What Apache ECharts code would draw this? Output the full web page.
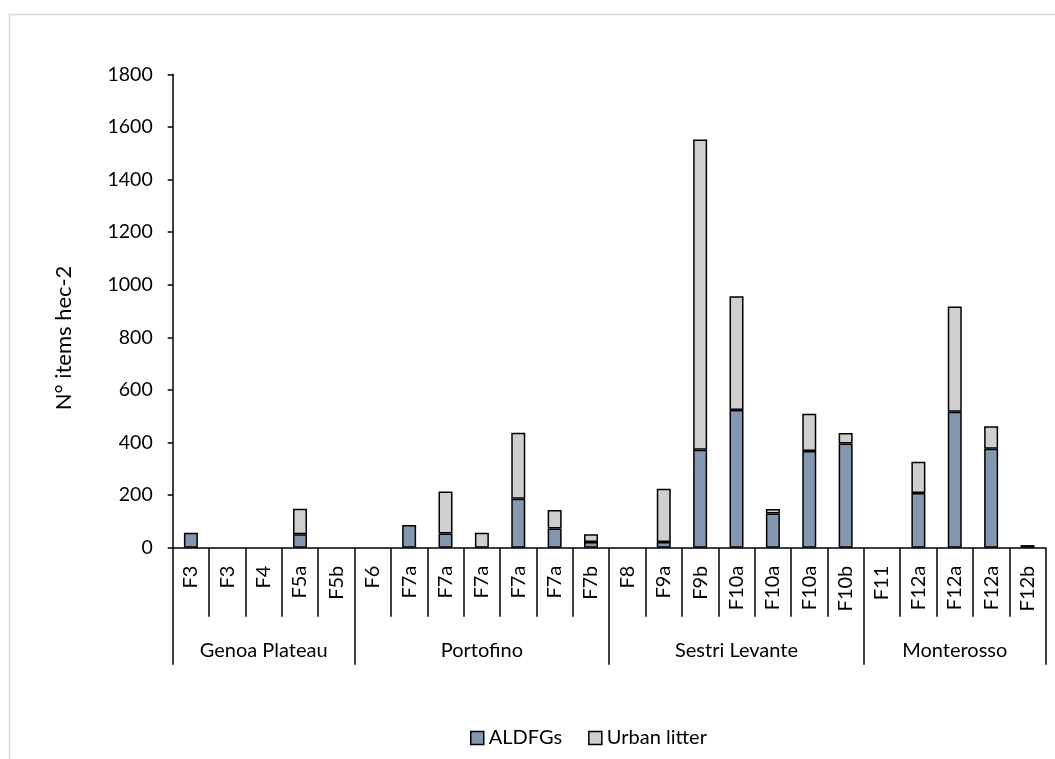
<!DOCTYPE html>
<html>
<head>
<meta charset="utf-8">
<script src="https://cdn.jsdelivr.net/npm/echarts@6/dist/echarts.min.js"></script>
<style>html,body{margin:0;padding:0;background:#fff;}#c{width:1055px;height:759px;}</style>
</head>
<body>
<div id="c"></div>
<script>
const categories = ['F3','F3','F4','F5a','F5b','F6','F7a','F7a','F7a','F7a','F7a','F7b','F8','F9a','F9b','F10a','F10a','F10a','F10b','F11','F12a','F12a','F12a','F12b'];
const aldfgs = [57,0,0,51,0, 0,86,54,0,186,73,22, 0,22,372,524,130,368,396, 0,208,517,376,0];
const urbanLitter = [0,0,0,97,0, 0,0,160,57,251,70,29, 0,202,1180,432,17,141,40, 0,119,400,86,10];
const groupNames = ['Genoa Plateau','Portofino','Sestri Levante','Monterosso'];
const groupSizes = [5,7,7,5];
const yTicks = [0,200,400,600,800,1000,1200,1400,1600,1800];

const boundaries = [0];
const centers = [];
groupSizes.forEach(function(s){ const b = boundaries[boundaries.length-1]; centers.push(b + s/2); boundaries.push(b + s); });
function noZero(arr){ return arr.map(function(v){ return v === 0 ? '-' : v; }); }

const FONT = 'Lato';
const chart = echarts.init(document.getElementById('c'), null, {renderer:'canvas'});
chart.setOption({
  animation:false,
  backgroundColor:'#fff',
  textStyle:{fontFamily:FONT,color:'#000'},
  graphic:[{type:'rect',shape:{x:9.5,y:14.5,width:1100,height:800},style:{fill:'none',stroke:'#d9d9d9',lineWidth:1.5},silent:true,z:-1}],
  grid:{left:172.7,right:9.3,top:74.3,bottom:211.3,containLabel:false},
  legend:{
    data:['ALDFGs','Urban litter'],
    left:465, top:723,
    itemWidth:13,itemHeight:13,itemGap:26,
    icon:'rect',
    textStyle:{fontFamily:FONT,fontSize:20,color:'#000'},
    itemStyle:{borderColor:'#000',borderWidth:1.5}
  },
  xAxis:[{
    type:'category',
    data:categories,
    position:'bottom',
    axisLine:{show:true,lineStyle:{color:'#000',width:1.5}},
    axisTick:{show:true,length:69,lineStyle:{color:'#000',width:1.5}},
    axisLabel:{interval:0,rotate:90,margin:18,fontSize:20,fontFamily:FONT,color:'#000'},
    splitLine:{show:false}
  },{
    type:'value',
    min:0,max:24,
    position:'bottom',
    axisLine:{show:false},
    splitLine:{show:false},
    axisTick:{show:true,customValues:boundaries,length:117,lineStyle:{color:'#000',width:1.5}},
    axisLabel:{show:true,customValues:centers,margin:93,fontSize:20,fontFamily:FONT,color:'#000',
      formatter:function(v){ const i = centers.indexOf(v); return i>=0 ? groupNames[i] : ''; }}
  }],
  yAxis:{
    type:'value',min:0,max:1800,interval:200,
    name:'N° items hec-2',nameLocation:'middle',nameGap:98,nameRotate:90,
    nameTextStyle:{fontFamily:FONT,fontSize:22,color:'#000',padding:[0,54,0,0]},
    axisLine:{show:true,lineStyle:{color:'#000',width:1.5}},
    axisTick:{show:true,length:5,lineStyle:{color:'#000',width:1.5}},
    axisLabel:{margin:20,fontSize:19.5,fontFamily:FONT,color:'#000',customValues:yTicks,
      formatter:function(v){ return String(v); }},
    splitLine:{show:false}
  },
  series:[{
    name:'ALDFGs',type:'bar',stack:'t',data:noZero(aldfgs),barWidth:14,
    itemStyle:{color:'#8497b0',borderColor:'#000',borderWidth:1.5}
  },{
    name:'Urban litter',type:'bar',stack:'t',data:noZero(urbanLitter),barWidth:14,
    itemStyle:{color:'#d0cece',borderColor:'#000',borderWidth:1.5}
  }]
});
</script>
</body>
</html>
